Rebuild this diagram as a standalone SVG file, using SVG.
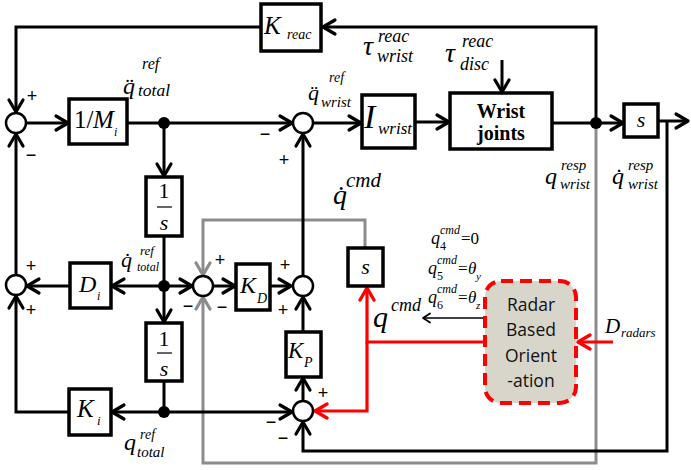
<svg xmlns="http://www.w3.org/2000/svg" width="691" height="470" viewBox="0 0 691 470">
<style>
.ln{fill:none;stroke:#000;stroke-width:3}
.gr{fill:none;stroke:#8c8c8c;stroke-width:3}
.rd{fill:none;stroke:#f00;stroke-width:3.2}
.th{fill:none;stroke:#000;stroke-width:1.5}
.box{fill:#fff;stroke:#000;stroke-width:3.5}
.sum{fill:#fff;stroke:#000;stroke-width:2.5}
.dot{fill:#000}
.m{font-family:"Liberation Serif",serif;font-style:italic;fill:#000}
.r{font-family:"Liberation Serif",serif;fill:#000}
.sg{font-family:"Liberation Sans",sans-serif;font-size:18px;text-anchor:middle;fill:#000}
.rad{font-family:"Open Sans","Noto Sans",sans-serif;font-size:17.5px;text-anchor:middle;fill:#111}
</style>
<defs>
<marker id="a" viewBox="0 0 16 18" refX="14" refY="9" markerWidth="16" markerHeight="18" markerUnits="userSpaceOnUse" orient="auto" overflow="visible"><path d="M2,2 L14,9 L2,16" fill="none" stroke="#000" stroke-width="3.2" stroke-linejoin="round" stroke-linecap="round"/></marker>
<marker id="ag" viewBox="0 0 16 18" refX="14" refY="9" markerWidth="16" markerHeight="18" markerUnits="userSpaceOnUse" orient="auto" overflow="visible"><path d="M2,2 L14,9 L2,16" fill="none" stroke="#8c8c8c" stroke-width="3.2" stroke-linejoin="round" stroke-linecap="round"/></marker>
<marker id="ar" viewBox="0 0 16 18" refX="14" refY="9" markerWidth="16" markerHeight="18" markerUnits="userSpaceOnUse" orient="auto" overflow="visible"><path d="M2,2 L14,9 L2,16" fill="none" stroke="#f00" stroke-width="3.4" stroke-linejoin="round" stroke-linecap="round"/></marker>
<marker id="at" viewBox="0 0 10 12" refX="9" refY="6" markerWidth="10" markerHeight="12" markerUnits="userSpaceOnUse" orient="auto" overflow="visible"><path d="M2,1.5 L9,6 L2,10.5" fill="none" stroke="#000" stroke-width="1.8" stroke-linejoin="round" stroke-linecap="round"/></marker>
</defs>

<g id="connectors">
<path class="gr" d="M596,128 V463 H203 V297" marker-end="url(#ag)"/>
<path class="gr" d="M365,248 V220 H203 V275" marker-end="url(#ag)"/>
<path class="ln" d="M596,123 V27 H323" marker-end="url(#a)"/>
<path class="ln" d="M261,27 H16 V112" marker-end="url(#a)"/>
<path class="ln" d="M26,123 H68" marker-end="url(#a)"/>
<path class="ln" d="M127,123 H292" marker-end="url(#a)"/>
<path class="ln" d="M313,123 H361" marker-end="url(#a)"/>
<path class="ln" d="M415,122 H449" marker-end="url(#a)"/>
<path class="ln" d="M552,123 H623" marker-end="url(#a)"/>
<path class="ln" d="M658,121 H688" marker-end="url(#a)"/>
<path class="ln" d="M502,60 V92" marker-end="url(#a)"/>
<path class="ln" d="M164,123 V176" marker-end="url(#a)"/>
<path class="ln" d="M164,236 V322" marker-end="url(#a)"/>
<path class="ln" d="M164,286 H112" marker-end="url(#a)"/>
<path class="ln" d="M164,286 H192" marker-end="url(#a)"/>
<path class="ln" d="M70,286 H27" marker-end="url(#a)"/>
<path class="ln" d="M16,275 V134" marker-end="url(#a)"/>
<path class="ln" d="M69,412 H16 V296" marker-end="url(#a)"/>
<path class="ln" d="M164,381 V412"/>
<path class="ln" d="M164,412 H112" marker-end="url(#a)"/>
<path class="ln" d="M164,412 H292" marker-end="url(#a)"/>
<path class="ln" d="M213,286 H235" marker-end="url(#a)"/>
<path class="ln" d="M270,286 H291" marker-end="url(#a)"/>
<path class="ln" d="M303,276 V134" marker-end="url(#a)"/>
<path class="ln" d="M303,332 V297" marker-end="url(#a)"/>
<path class="ln" d="M303,400 V378" marker-end="url(#a)"/>
<path class="ln" d="M667,121 V451 H303 V422" marker-end="url(#a)"/>
<path class="th" d="M485,318 H423" marker-end="url(#at)"/>
<path class="rd" d="M485,342 H367 V288" marker-end="url(#ar)"/>
<path class="rd" d="M367,342 V411 H315" marker-end="url(#ar)"/>
<path class="rd" d="M613,342 H578" marker-end="url(#ar)"/>
<circle class="dot" cx="164" cy="123" r="6"/>
<circle class="dot" cx="164" cy="286" r="6"/>
<circle class="dot" cx="164" cy="412" r="6"/>
<circle class="dot" cx="596" cy="123" r="6"/>
</g>

<g id="S1"><circle class="sum" cx="16" cy="123" r="10"/><text class="sg" x="32" y="102">+</text><text class="sg" x="31" y="161">−</text></g>
<g id="S2"><circle class="sum" cx="16" cy="285" r="10"/><text class="sg" x="31" y="272">+</text><text class="sg" x="31" y="316">+</text></g>
<g id="S3"><circle class="sum" cx="303" cy="123" r="10"/><text class="sg" x="265" y="140">−</text><text class="sg" x="284" y="166">+</text></g>
<g id="S4"><circle class="sum" cx="203" cy="286" r="10"/><text class="sg" x="220" y="266">+</text><text class="sg" x="188" y="312">−</text><text class="sg" x="222" y="313">−</text></g>
<g id="S5"><circle class="sum" cx="303" cy="286" r="10"/><text class="sg" x="285" y="271">+</text><text class="sg" x="283" y="316">+</text></g>
<g id="S6"><circle class="sum" cx="303" cy="411" r="10"/><text class="sg" x="323" y="399">+</text><text class="sg" x="271" y="428">−</text><text class="sg" x="283" y="444">−</text></g>

<g id="Kreac"><rect class="box" x="261" y="4" width="60" height="47"/><text class="m" x="264" y="34" font-size="25">K</text><text class="m" x="287" y="39" font-size="14">reac</text></g>
<g id="Minv"><rect class="box" x="69" y="99" width="58" height="45"/><text class="r" x="74" y="128" font-size="25">1/</text><text class="m" x="93" y="128" font-size="25">M</text><text class="m" x="114" y="136" font-size="12">i</text></g>
<g id="Iwrist"><rect class="box" x="362" y="95" width="53" height="53"/><text class="m" x="364" y="128" font-size="34">I</text><text class="m" x="378" y="134" font-size="17">wrist</text></g>
<g id="WristJoints"><rect class="box" x="450" y="93" width="102" height="56"/><text class="r" x="501" y="118" font-size="20" font-weight="bold" text-anchor="middle">Wrist</text><text class="r" x="501" y="140" font-size="20" font-weight="bold" text-anchor="middle">joints</text></g>
<g id="sOut"><rect class="box" x="624" y="104" width="34" height="33"/><text class="m" x="641" y="127" font-size="22" text-anchor="middle">s</text></g>
<g id="int1"><rect class="box" x="146" y="177" width="36" height="59"/><text class="r" x="164" y="198" font-size="22" text-anchor="middle">1</text><line x1="157" y1="207" x2="172" y2="207" stroke="#000" stroke-width="1.2"/><text class="m" x="164" y="230" font-size="22" text-anchor="middle">s</text></g>
<g id="int2"><rect class="box" x="146" y="323" width="36" height="58"/><text class="r" x="164" y="346" font-size="22" text-anchor="middle">1</text><line x1="157" y1="353" x2="172" y2="353" stroke="#000" stroke-width="1.2"/><text class="m" x="164" y="376" font-size="22" text-anchor="middle">s</text></g>
<g id="Di"><rect class="box" x="70" y="263" width="41" height="45"/><text class="m" x="79" y="292" font-size="24">D</text><text class="m" x="97" y="300" font-size="12">i</text></g>
<g id="KD"><rect class="box" x="236" y="264" width="34" height="46"/><text class="m" x="240" y="293" font-size="24">K</text><text class="m" x="257" y="303" font-size="14">D</text></g>
<g id="Ki"><rect class="box" x="69" y="389" width="42" height="46"/><text class="m" x="77" y="417" font-size="25">K</text><text class="m" x="97" y="425" font-size="13">i</text></g>
<g id="KP"><rect class="box" x="286" y="332" width="35" height="45"/><text class="m" x="288" y="358" font-size="23">K</text><text class="m" x="304" y="367" font-size="14">P</text></g>
<g id="sMid"><rect class="box" x="348" y="248" width="35" height="38"/><text class="m" x="365.5" y="274" font-size="22" text-anchor="middle">s</text></g>
<g id="Radar"><rect x="485" y="281" width="91" height="122" rx="16" ry="16" fill="#d8d6cb" stroke="#f00" stroke-width="4" stroke-dasharray="12,7"/><text class="rad" x="531" y="311">Radar</text><text class="rad" x="531" y="336">Based</text><text class="rad" x="531" y="362">Orient</text><text class="rad" x="531" y="387">-ation</text></g>

<g id="labels">
<text class="m"><tspan x="123" y="94" font-size="24">q̈</tspan><tspan x="142" y="69" font-size="16">ref</tspan><tspan x="138" y="96" font-size="17.5">total</tspan></text>
<text class="m"><tspan x="308" y="100" font-size="22">q̈</tspan><tspan x="329" y="82" font-size="14">ref</tspan><tspan x="321" y="107" font-size="15">wrist</tspan></text>
<text class="m"><tspan x="363" y="55" font-size="28">τ</tspan><tspan x="378" y="42" font-size="18">reac</tspan><tspan x="377" y="62" font-size="18">wrist</tspan></text>
<text class="m"><tspan x="445" y="62" font-size="28">τ</tspan><tspan x="462" y="47" font-size="18">reac</tspan><tspan x="460" y="70" font-size="18">disc</tspan></text>
<text class="m"><tspan x="545" y="184" font-size="24">q</tspan><tspan x="561" y="170" font-size="15">resp</tspan><tspan x="560" y="189" font-size="15">wrist</tspan></text>
<text class="m"><tspan x="612" y="184" font-size="24">q̇</tspan><tspan x="628" y="170" font-size="15">resp</tspan><tspan x="628" y="189" font-size="15">wrist</tspan></text>
<text class="m"><tspan x="333" y="204" font-size="28">q̇</tspan><tspan x="346" y="187" font-size="21">cmd</tspan></text>
<text class="m"><tspan x="121" y="267" font-size="22">q̇</tspan><tspan x="140" y="255" font-size="13">ref</tspan><tspan x="137" y="271" font-size="12">total</tspan></text>
<text class="m"><tspan x="124" y="450" font-size="24">q</tspan><tspan x="140" y="439" font-size="14">ref</tspan><tspan x="137" y="457" font-size="15">total</tspan></text>
<text class="m"><tspan x="373" y="327" font-size="30">q</tspan><tspan x="391" y="311" font-size="18">cmd</tspan></text>
<text class="m"><tspan x="605" y="333" font-size="21">D</tspan><tspan x="621" y="337" font-size="13">radars</tspan></text>
<text class="m"><tspan x="431" y="244" font-size="18">q</tspan><tspan x="440" y="234" font-size="12">cmd</tspan><tspan x="440" y="250" font-size="12" font-style="normal">4</tspan><tspan x="461" y="244" font-size="17" font-style="normal">=0</tspan></text>
<text class="m"><tspan x="428" y="274" font-size="18">q</tspan><tspan x="437" y="264" font-size="12">cmd</tspan><tspan x="437" y="280" font-size="12" font-style="normal">5</tspan><tspan x="458" y="274" font-size="17" font-style="normal">=</tspan><tspan x="468" y="274" font-size="17">θ</tspan><tspan x="476" y="280" font-size="11">y</tspan></text>
<text class="m"><tspan x="428" y="303" font-size="18">q</tspan><tspan x="437" y="293" font-size="12">cmd</tspan><tspan x="437" y="309" font-size="12" font-style="normal">6</tspan><tspan x="458" y="303" font-size="17" font-style="normal">=</tspan><tspan x="468" y="303" font-size="17">θ</tspan><tspan x="476" y="309" font-size="11">z</tspan></text>
</g>
</svg>
